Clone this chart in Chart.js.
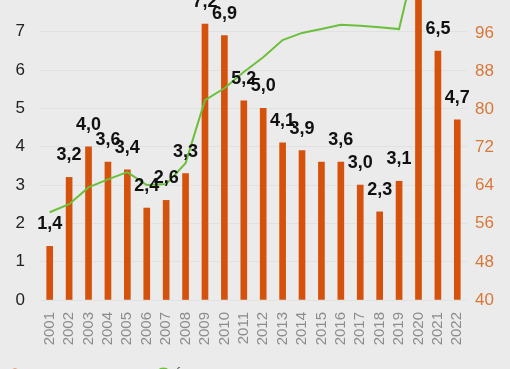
<!DOCTYPE html>
<html>
<head>
<meta charset="utf-8">
<script src="https://cdn.jsdelivr.net/npm/chart.js@4.4.1/dist/chart.umd.min.js"></script>
<style>
  html, body { margin: 0; padding: 0; background: #ebebeb; overflow: hidden; }
  #wrap { position: relative; width: 510px; height: 393px; }
</style>
</head>
<body>
<div id="wrap"><canvas id="chart"></canvas></div>
<script>
//------------------------------- data -------------------------------
var years = ['2001','2002','2003','2004','2005','2006','2007','2008','2009','2010','2011',
             '2012','2013','2014','2015','2016','2017','2018','2019','2020','2021','2022'];
var rates = [1.4, 3.2, 4.0, 3.6, 3.4, 2.4, 2.6, 3.3, 7.2, 6.9, 5.2,
             5.0, 4.1, 3.9, 3.6, 3.6, 3.0, 2.3, 3.1, 10.2, 6.5, 4.7];
var index = [58.4, 60.1, 63.6, 65.3, 66.8, 64.1, 64.3, 68.7, 81.9, 84.4, 87.8,
             90.9, 94.5, 96.0, 96.8, 97.7, 97.5, 97.2, 96.8, 114, 118, 121];
var leftTicks = [0, 7.83];     // min / max of left axis
var rightTicks = [40, 102.9];  // min / max of right axis
var noLabel = ['2015'];        // bars drawn without a value label

var orange = '#d4520b';
var green = '#6cbf3c';

// value labels above the bars
var barLabels = {
	id: 'barLabels',
	afterDatasetsDraw: function(chart) {
		var ctx = chart.ctx;
		var meta = chart.getDatasetMeta(0);
		ctx.save();
		ctx.font = 'bold 18px "Liberation Sans", Arial, sans-serif';
		ctx.fillStyle = '#111';
		ctx.textAlign = 'center';
		ctx.textBaseline = 'bottom';
		meta.data.forEach(function(bar, i) {
			if (noLabel.indexOf(years[i]) !== -1) return;
			var txt = rates[i].toFixed(1).replace('.', ',');
			ctx.fillText(txt, bar.x, bar.y - 13);
		});
		ctx.restore();
	}
};

var ctx = document.getElementById('chart').getContext('2d');
var myChart = new Chart(ctx, {
	type: 'bar',
	data: {
		labels: years,
		datasets: [{
			label: 'Inflação anual (%)',
			data: rates,
			backgroundColor: orange,
			borderWidth: 0,
			barThickness: 6,
			yAxisID: 'y',
			order: 1
		}, {
			type: 'line',
			label: 'Índice',
			data: index,
			borderColor: green,
			backgroundColor: green,
			borderWidth: 2,
			pointRadius: 0,
			tension: 0,
			yAxisID: 'y1',
			order: 0
		}]
	},
	options: {
		responsive: true,
		maintainAspectRatio: false,
		animation: false,
		layout: { padding: 0 },
		plugins: {
			tooltip: { enabled: false },
			legend: {
				display: true,
				position: 'bottom',
				align: 'start',
				labels: {
					usePointStyle: true,
					pointStyle: 'circle',
					boxWidth: 10,
					boxHeight: 10,
					color: '#555',
					font: { size: 15, family: '"Liberation Sans", Arial, sans-serif' },
					sort: function(a, b) { return a.datasetIndex - b.datasetIndex; }
				}
			}
		},
		scales: {
			x: {
				grid: { display: false, drawTicks: false },
				border: { display: false },
				ticks: {
					autoSkip: false,
					minRotation: 90,
					maxRotation: 90,
					padding: 12,
					color: '#8c8c8c',
					font: { size: 15, family: '"Liberation Sans", Arial, sans-serif' }
				},
				afterFit: function(scale) {
					scale.height = 58;
					scale.paddingLeft = 0;
					scale.paddingRight = 0;
				}
			},
			y: {
				position: 'left',
				min: leftTicks[0],
				max: leftTicks[1],
				grid: { color: '#e1e1e1', lineWidth: 1, drawTicks: false },
				border: { display: false },
				ticks: {
					stepSize: 1,
					includeBounds: false,
					padding: 15,
					color: '#222',
					font: { size: 17, family: '"Liberation Sans", Arial, sans-serif' }
				},
				afterFit: function(scale) {
					scale.width = 40;
					scale.paddingTop = 0;
					scale.paddingBottom = 0;
				}
			},
			y1: {
				position: 'right',
				min: rightTicks[0],
				max: rightTicks[1],
				grid: { display: false, drawTicks: false },
				border: { display: false },
				ticks: {
					stepSize: 8,
					includeBounds: false,
					padding: 8,
					color: '#d9773a',
					font: { size: 17, family: '"Liberation Sans", Arial, sans-serif' }
				},
				afterFit: function(scale) {
					scale.width = 43;
					scale.paddingTop = 0;
					scale.paddingBottom = 0;
				}
			}
		}
	},
	plugins: [barLabels]
});
</script>
</body>
</html>
